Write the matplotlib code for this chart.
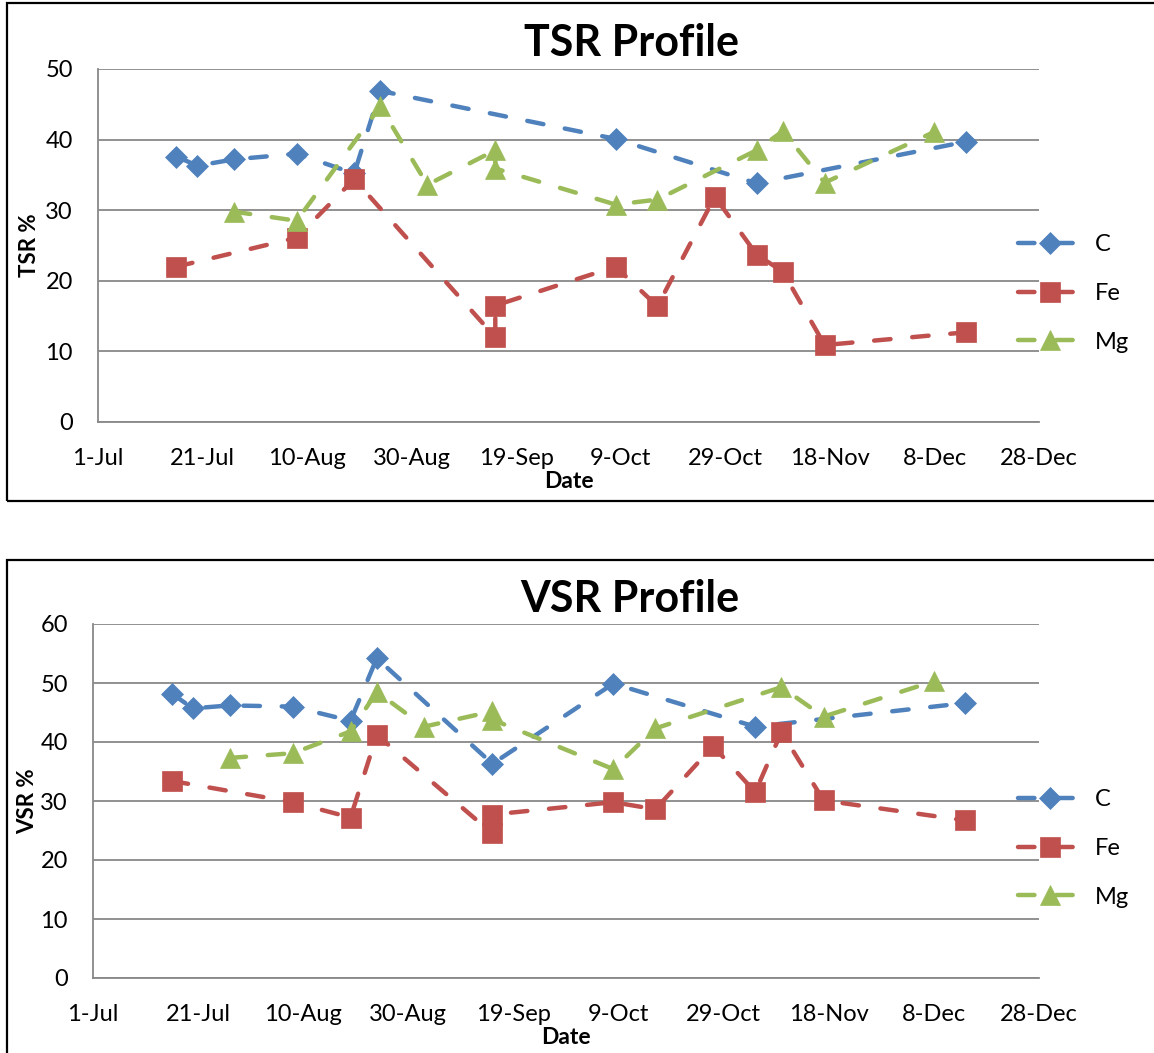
import pandas as pd
import matplotlib
matplotlib.use("Agg")
import matplotlib.pyplot as plt
from matplotlib.patches import Rectangle
from matplotlib.ticker import FuncFormatter, MultipleLocator

plt.rcParams["font.family"] = ["Lato", "DejaVu Sans"]

# sampling dates and measured values (%) per additive
TSR_C_DATES = ["2013-07-16", "2013-07-20", "2013-07-27", "2013-08-08", "2013-08-19",
               "2013-08-24", "2013-10-08", "2013-11-04", "2013-12-14"]
TSR_C = [37.6, 36.3, 37.2, 38.0, 35.2, 46.9, 40.1, 33.8, 39.7]

TSR_FE_DATES = ["2013-07-16", "2013-08-08", "2013-08-19", "2013-09-15", "2013-09-15",
                "2013-10-08", "2013-10-16", "2013-10-27", "2013-11-04", "2013-11-09",
                "2013-11-17", "2013-12-14"]
TSR_FE = [22.0, 26.1, 34.4, 12.0, 16.5, 22.0, 16.4, 31.9, 23.7, 21.3, 10.9, 12.7]

TSR_MG_DATES = ["2013-07-27", "2013-08-08", "2013-08-24", "2013-09-02", "2013-09-15",
                "2013-09-15", "2013-10-08", "2013-10-16", "2013-11-04", "2013-11-09",
                "2013-11-17", "2013-12-08"]
TSR_MG = [29.8, 28.5, 44.7, 33.6, 38.5, 35.9, 30.8, 31.5, 38.5, 41.2, 33.9, 41.1]

VSR_C_DATES = ["2013-07-16", "2013-07-20", "2013-07-27", "2013-08-08", "2013-08-19",
               "2013-08-24", "2013-09-15", "2013-10-08", "2013-11-04", "2013-12-14"]
VSR_C = [48.2, 45.7, 46.2, 46.0, 43.6, 54.2, 36.3, 49.9, 42.6, 46.6]

VSR_FE_DATES = ["2013-07-16", "2013-08-08", "2013-08-19", "2013-08-24", "2013-09-15",
                "2013-09-15", "2013-10-08", "2013-10-16", "2013-10-27", "2013-11-04",
                "2013-11-09", "2013-11-17", "2013-12-14"]
VSR_FE = [33.4, 29.8, 27.2, 41.2, 24.5, 27.7, 29.8, 28.6, 39.3, 31.5, 41.7, 30.1, 26.7]

VSR_MG_DATES = ["2013-07-27", "2013-08-08", "2013-08-19", "2013-08-24", "2013-09-02",
                "2013-09-15", "2013-09-15", "2013-10-08", "2013-10-16", "2013-11-09",
                "2013-11-17", "2013-12-08"]
VSR_MG = [37.3, 38.1, 41.8, 48.5, 42.6, 45.2, 43.8, 35.4, 42.3, 49.3, 44.3, 50.3]

LABELS = ["C", "Fe", "Mg"]
COLORS = ["#4F81BD", "#C0504D", "#9BBB59"]
MARKERS = [("D", 10.8), ("s", 14.5), ("^", 14.5)]

X_START, X_END = "2013-07-01", "2013-12-28"

W, H = 1154, 1053
fig = plt.figure(figsize=(W / 100, H / 100), dpi=100)


def px_box(left, top, right, bottom):
    """pixel box (from top-left) -> figure fraction rect"""
    return [left / W, 1 - bottom / H, (right - left) / W, (bottom - top) / H]


def date_fmt(x, pos):
    d = matplotlib.dates.num2date(x)
    return f"{d.day}-{d:%b}"


def draw_panel(box, series, ymax, title, ylabel, frame, title_xy, ylab_x, date_y, leg_y):
    fx0, fy0, fx1, fy1 = frame
    fig.add_artist(Rectangle((fx0 / W, 1 - fy1 / H), (fx1 - fx0) / W, (fy1 - fy0) / H,
                             transform=fig.transFigure, fill=False, ec="black", lw=1.6))

    ax = fig.add_axes(px_box(*box))
    for (dates, vals), lab, col, (mk, ms) in zip(series, LABELS, COLORS, MARKERS):
        ax.plot(pd.to_datetime(dates), vals, color=col, lw=3.2,
                linestyle=(0, (3.7, 4.9)), dash_capstyle="round",
                marker=mk, markersize=ms, markerfacecolor=col, markeredgecolor=col,
                markeredgewidth=0.5, label=lab, clip_on=False)

    ax.set_xlim(pd.Timestamp(X_START), pd.Timestamp(X_END))
    ax.set_xticks(pd.date_range(X_START, X_END, freq="20D"))
    ax.xaxis.set_major_formatter(FuncFormatter(date_fmt))
    ax.set_ylim(0, ymax)
    ax.yaxis.set_major_locator(MultipleLocator(10))

    ax.grid(axis="y", color="#888888", lw=1.3)
    ax.set_axisbelow(True)
    for s in ["top", "right"]:
        ax.spines[s].set_visible(False)
    for s in ["left", "bottom"]:
        ax.spines[s].set_color("#888888")
        ax.spines[s].set_linewidth(1.3)
    ax.tick_params(length=0, labelsize=17)
    ax.tick_params(axis="x", pad=18.5)
    ax.tick_params(axis="y", pad=18)

    cx = (box[0] + box[2]) / 2
    fig.text(title_xy[0] / W, 1 - title_xy[1] / H, title, ha="center", va="center",
             fontsize=31, fontweight="bold")
    fig.text(ylab_x / W, 1 - (box[1] + box[3]) / 2 / H, ylabel, rotation=90,
             ha="center", va="center", fontsize=16, fontweight="bold")
    fig.text(cx / W, 1 - date_y / H, "Date", ha="center", va="center",
             fontsize=16.5, fontweight="bold")

    ax.legend(loc="center left", bbox_to_anchor=(1018 / W, 1 - leg_y / H),
              bbox_transform=fig.transFigure, frameon=False, fontsize=17,
              handlelength=2.75, handletextpad=0.5, labelspacing=1.17,
              borderpad=0, borderaxespad=0)
    return ax


draw_panel((98, 69, 1039, 422),
           [(TSR_C_DATES, TSR_C), (TSR_FE_DATES, TSR_FE), (TSR_MG_DATES, TSR_MG)],
           50, "TSR Profile", "TSR %", (6.5, 3.5, 1170, 500.5),
           (631, 43.5), 30, 482, 293.5)

draw_panel((93, 624, 1039, 978),
           [(VSR_C_DATES, VSR_C), (VSR_FE_DATES, VSR_FE), (VSR_MG_DATES, VSR_MG)],
           60, "VSR Profile", "VSR %", (6.5, 560, 1170, 1070),
           (630, 599.5), 28, 1037, 848.5)

fig.savefig("out.png", dpi=100)
